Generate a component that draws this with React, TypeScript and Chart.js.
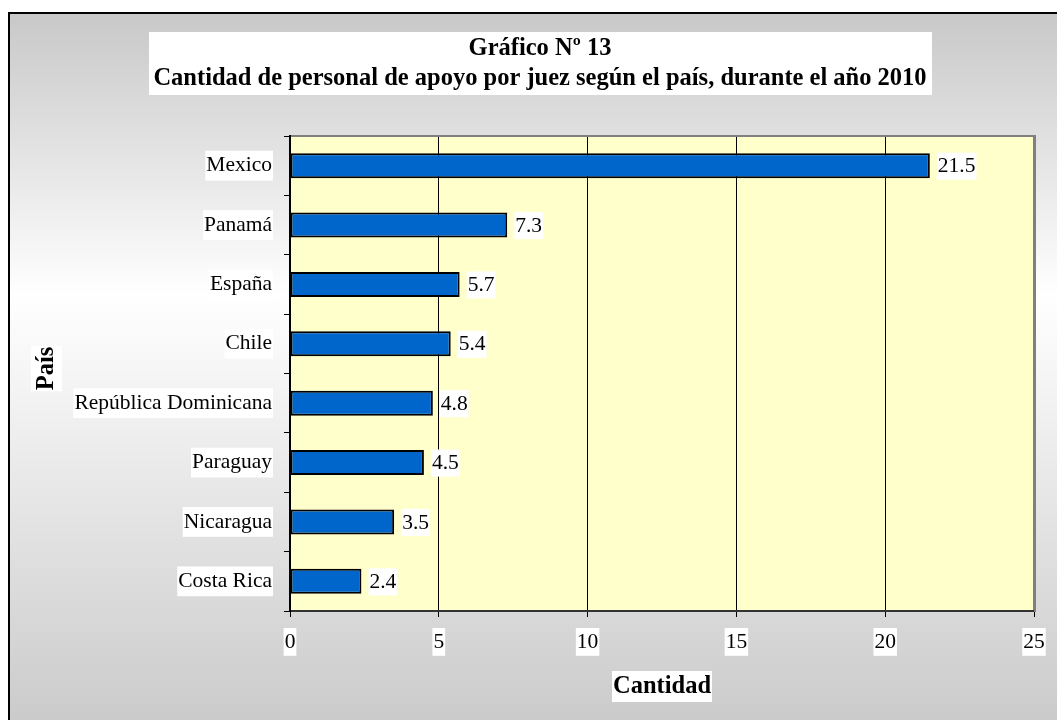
import React, { useEffect, useRef } from "react";
import { Chart, registerables } from "chart.js";

Chart.register(...registerables);

const titleLines = ["Gráfico Nº 13", "Cantidad de personal de apoyo por juez según el país, durante el año 2010"];
const countries = ["Mexico", "Panamá", "España", "Chile", "República Dominicana", "Paraguay", "Nicaragua", "Costa Rica"];
const values = [21.5, 7.3, 5.7, 5.4, 4.8, 4.5, 3.5, 2.4];
const xTitle = "Cantidad";
const yTitle = "País";
const xMax = 25;
const xStep = 5;

const SERIF = "'Times New Roman', 'Liberation Serif', serif";

const W = 1049;
const H = 708;

const decorPlugin = {
  id: "decor",
  beforeDraw(chart: any) {
    const ctx = chart.ctx;
    const ca = chart.chartArea;
    ctx.save();
    const g = ctx.createLinearGradient(0, 0, 0, H);
    g.addColorStop(0, "#c8c8c8");
    g.addColorStop(0.4, "#ffffff");
    g.addColorStop(1, "#cbcbcb");
    ctx.fillStyle = g;
    ctx.fillRect(0, 0, W, H);
    // outer border (left & top visible)
    ctx.strokeStyle = "#000";
    ctx.lineWidth = 2;
    ctx.beginPath();
    ctx.moveTo(1, H + 5);
    ctx.lineTo(1, 1);
    ctx.lineTo(W + 5, 1);
    ctx.stroke();
    // plot area background
    ctx.fillStyle = "#ffffcc";
    ctx.fillRect(ca.left, ca.top, ca.right - ca.left, ca.bottom - ca.top);
    // title box
    ctx.fillStyle = "#ffffff";
    ctx.fillRect(141, 20, 783, 63);
    ctx.fillStyle = "#000";
    ctx.font = "bold 24.5px " + SERIF;
    ctx.textAlign = "center";
    ctx.textBaseline = "middle";
    ctx.fillText(titleLines[0], 532, 37);
    ctx.fillText(titleLines[1], 532, 67);
    ctx.restore();
  },
  afterDraw(chart: any) {
    const ctx = chart.ctx;
    const ca = chart.chartArea;
    ctx.save();
    // plot border
    ctx.strokeStyle = "#808080";
    ctx.lineWidth = 2;
    ctx.beginPath();
    ctx.moveTo(ca.left, ca.top);
    ctx.lineTo(ca.right, ca.top);
    ctx.stroke();
    ctx.lineWidth = 3;
    ctx.beginPath();
    ctx.moveTo(ca.right + 0.5, ca.top - 1);
    ctx.lineTo(ca.right + 0.5, ca.bottom + 1);
    ctx.stroke();
    ctx.strokeStyle = "#333";
    ctx.lineWidth = 2;
    ctx.beginPath();
    ctx.moveTo(ca.left, ca.bottom);
    ctx.lineTo(ca.right, ca.bottom);
    ctx.stroke();
    ctx.strokeStyle = "#000";
    ctx.beginPath();
    ctx.moveTo(ca.left, ca.top - 1);
    ctx.lineTo(ca.left, ca.bottom + 1);
    ctx.stroke();

    ctx.font = "bold 24.5px " + SERIF;
    ctx.textAlign = "center";
    ctx.textBaseline = "middle";
    // x title
    const cx = (ca.left + ca.right) / 2;
    const tw = ctx.measureText(xTitle).width;
    ctx.fillStyle = "#fff";
    ctx.fillRect(cx - tw / 2 - 1, 674 - 15, tw + 2, 31);
    ctx.fillStyle = "#000";
    ctx.fillText(xTitle, cx, 675);
    // y title
    const cy = (ca.top + ca.bottom) / 2 - 5;
    const yw = ctx.measureText(yTitle).width;
    ctx.translate(38, cy);
    ctx.rotate(-Math.PI / 2);
    ctx.fillStyle = "#fff";
    ctx.fillRect(-yw / 2 - 1, -15, yw + 2, 31);
    ctx.fillStyle = "#000";
    ctx.fillText(yTitle, 0, 1);
    ctx.restore();

    // data labels
    ctx.save();
    ctx.font = "21.5px " + SERIF;
    ctx.textAlign = "left";
    ctx.textBaseline = "middle";
    const meta = chart.getDatasetMeta(0);
    meta.data.forEach((bar: any, i: number) => {
      const txt = values[i].toFixed(1);
      const w = ctx.measureText(txt).width;
      const x0 = bar.x + 7;
      ctx.fillStyle = "#fff";
      ctx.fillRect(x0, bar.y - 13, w + 2, 27);
      ctx.fillStyle = "#000";
      ctx.fillText(txt, x0 + 1, bar.y + 1);
    });
    ctx.restore();
  },
};

export default function App() {
  const ref = useRef<HTMLCanvasElement | null>(null);
  useEffect(() => {
    if (!ref.current) return;
    const chart = new Chart(ref.current, {
      type: "bar",
      data: {
        labels: countries,
        datasets: [
          {
            data: values,
            backgroundColor: "#0066cc",
            borderColor: "#000000",
            borderWidth: 2,
            borderSkipped: false,
            barPercentage: 0.42,
            categoryPercentage: 1,
          },
        ],
      },
      options: {
        indexAxis: "y",
        responsive: false,
        animation: false,
        maintainAspectRatio: false,
        layout: { padding: { left: 0, top: 124, right: 23, bottom: 0 } },
        plugins: {
          legend: { display: false },
          title: { display: false },
          tooltip: { enabled: false },
        },
        scales: {
          x: {
            type: "linear",
            min: 0,
            max: xMax,
            ticks: {
              stepSize: xStep,
              color: "#000",
              font: { family: SERIF, size: 21.5 },
              padding: 12,
              showLabelBackdrop: true,
              backdropColor: "#ffffff",
              backdropPadding: { top: 1, bottom: 1, left: 1, right: 1 },
            },
            grid: {
              color: "#000",
              lineWidth: 1,
              tickLength: 6,
              tickColor: "#000",
              drawTicks: true,
            },
            border: { display: false },
            afterFit(scale: any) {
              scale.height = 109;
            },
          },
          y: {
            type: "category",
            ticks: {
              color: "#000",
              font: { family: SERIF, size: 21.5 },
              padding: 12,
              showLabelBackdrop: true,
              backdropColor: "#ffffff",
              backdropPadding: { top: 2, bottom: 2, left: 1, right: 1 },
            },
            grid: {
              drawOnChartArea: false,
              offset: true,
              tickLength: 6,
              tickColor: "#000",
              color: "#000",
            },
            border: { display: false },
            afterFit(scale: any) {
              scale.width = 282;
            },
          },
        },
      },
      plugins: [decorPlugin],
    } as any);
    return () => chart.destroy();
  }, []);
  return (
    <div style={{ position: "fixed", left: 8, top: 12, width: W, height: H }}>
      <canvas ref={ref} width={W} height={H} style={{ width: W, height: H, display: "block" }} />
    </div>
  );
}
